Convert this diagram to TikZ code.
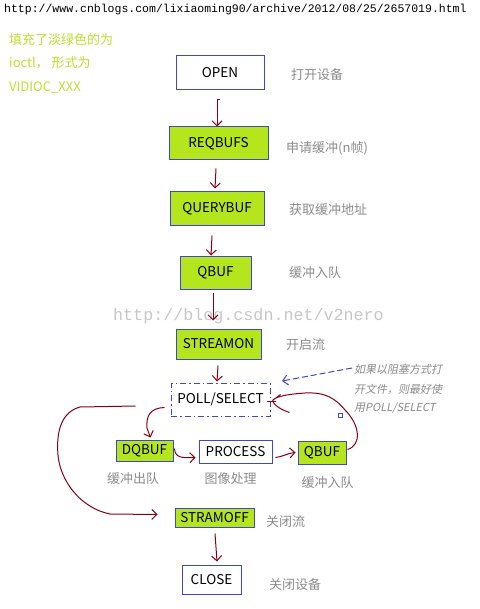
\documentclass[tikz,border=0pt]{standalone}
\usepackage{fontspec}
\setmainfont{Noto Sans CJK SC}
\newfontfamily\cjk{Noto Sans CJK SC}
\newfontfamily\cjkit[FakeSlant=0.2]{Noto Sans CJK SC}
\newfontfamily\monof{Liberation Mono}
\usetikzlibrary{arrows.meta,calc}
\definecolor{bblue}{HTML}{3F48CC}
\definecolor{lgreen}{HTML}{B5E61D}
\definecolor{dred}{HTML}{880015}
\definecolor{gtxt}{HTML}{8C8C8C}
\definecolor{wm}{HTML}{C8C8C8}
\definecolor{gnote}{HTML}{C0E030}
\tikzset{
  box/.style={draw=bblue, line width=1pt, inner sep=0pt, font=\cjk\fontsize{13.5}{14}\selectfont, text=black},
  gbox/.style={box, fill=lgreen},
  wbox/.style={box, fill=white},
  lbl/.style={font=\cjk\fontsize{13}{14}\selectfont, text=gtxt, inner sep=0pt},
  note/.style={font=\cjk\fontsize{13}{14}\selectfont, text=gnote, inner sep=0pt, anchor=west},
  ann/.style={font=\cjkit\fontsize{11}{12}\selectfont, text=gtxt, inner sep=0pt, anchor=west},
  arr/.style={draw=dred, line width=1pt, -{Straight Barb[length=5pt,width=10pt]}},
}
\begin{document}
\begin{tikzpicture}[x=1pt,y=-1pt]
\useasboundingbox[fill=white] (0,0) rectangle (479,609);
% header texts
\node[anchor=west, inner sep=0pt, font=\monof\fontsize{11.5}{12}\selectfont] (url) at (4,10) {http://www.cnblogs.com/lixiaoming90/archive/2012/08/25/2657019.html};
\node[note] (n1) at (9,40) {填充了淡绿色的为};
\node[note] (n2) at (9,63) {ioctl， 形式为};
\node[note] (n3) at (9,88) {VIDIOC\_XXX};
% watermark
\node[anchor=west, inner sep=0pt, text=wm, font=\monof\fontsize{16.7}{17}\selectfont] (wmk) at (113,316) {http://blog.csdn.net/v2nero};
% boxes
\node[wbox, minimum width=88, minimum height=34] (open) at (220,73) {OPEN};
\node[gbox, minimum width=99, minimum height=33] (req) at (218.5,143.5) {REQBUFS};
\node[gbox, minimum width=94, minimum height=34] (query) at (217,209) {QUERYBUF};
\node[gbox, minimum width=71, minimum height=33] (qbuf) at (215.5,272.5) {QBUF};
\node[gbox, minimum width=85, minimum height=30] (son) at (218.5,344) {STREAMON};
\node[box, dash pattern=on 6pt off 3pt on 1.5pt off 3pt, fill=white, minimum width=99, minimum height=33] (poll) at (220.5,399.5) {POLL/SELECT};
\node[gbox, minimum width=57, minimum height=21] (dq) at (144.5,450.5) {DQBUF};
\node[wbox, minimum width=73, minimum height=23] (proc) at (235.5,451.5) {PROCESS};
\node[gbox, minimum width=48, minimum height=23] (qb2) at (322,452.5) {QBUF};
\node[gbox, minimum width=79, minimum height=19] (soff) at (214.5,517.5) {STRAMOFF};
\node[wbox, minimum width=59, minimum height=29] (close) at (211.5,579.5) {CLOSE};
% side labels
\node[lbl, anchor=west] (l1) at (291,75) {打开设备};
\node[lbl, anchor=west] (l2) at (286,148) {申请缓冲(n帧)};
\node[lbl, anchor=west] (l3) at (289,210) {获取缓冲地址};
\node[lbl, anchor=west] (l4) at (289,273) {缓冲入队};
\node[lbl, anchor=west] (l5) at (286,345) {开启流};
\node[lbl] (l6) at (133,479) {缓冲出队};
\node[lbl] (l7) at (230.5,479) {图像处理};
\node[lbl] (l8) at (327.5,483) {缓冲入队};
\node[lbl, anchor=west] (l9) at (266,522) {关闭流};
\node[lbl, anchor=west] (l10) at (269,585) {关闭设备};
% annotation
\node[ann] (a1) at (354,369) {如果以阻塞方式打};
\node[ann] (a2) at (354,389) {开文件，则最好使};
\node[ann] (a3) at (354,408) {用POLL/SELECT};
\coordinate (pt) at (282,381);
\draw[draw=bblue, line width=1pt, dash pattern=on 6pt off 3pt, -{Straight Barb[length=5pt,width=10pt]}] ($(a1.west)+(-2,-1)$) -- (pt);
\node[draw=bblue, line width=0.8pt, minimum size=4pt, inner sep=0pt] (sq) at (340,415) {};
% vertical arrows
\draw[arr] ($(open.south)+(0,9)$) -| ($(open.south)+(-3,9)$) -- ($(req.north)+(-1.5,0)$);
\draw[arr] ($(req.south)+(-2.5,8)$) -- ($(query.north)+(-2,-3)$);
\draw[arr] ($(query.south)+(-5,9)$) -- ($(qbuf.north)+(-4.5,0)$);
\draw[arr] ($(qbuf.south)+(-2.5,3)$) -- ($(son.north)+(-5.5,-8)$);
\draw[arr] ($(son.south)+(-0.5,6)$) -- ($(poll.north)+(-3.5,-1)$);
\draw[arr] ($(soff.south)+(0.5,6)$) -- ($(close.north)+(5.5,-3)$);
% loop arrows
\draw[arr] ($(poll.west)+(-6,8)$) .. controls (150,408) and (146,416) .. (147,428) -- ($(dq.north)+(6,-2)$);
\draw[arr] ($(dq.east)+(1,-2)$) .. controls (175,458) and (182,458) .. ($(proc.west)+(-3,6)$);
\draw[arr] ($(proc.east)+(3,6)$) .. controls (282,457) and (288,453) .. ($(qb2.west)+(-2,0)$);
\draw[draw=dred, line width=1pt] ($(qb2.east)+(1,-3)$) .. controls (362,445) and (360,425) .. (345,410)
  .. controls (335,398) and (325,392) .. (305,393)
  .. controls (290,394) and (276,396) .. ($(poll.east)+(2,1)$)
  -- ++(8,-6);
\draw[draw=dred, line width=1pt] ($(poll.east)+(2,1)$) .. controls ++(2,6) and ++(-6,-2) .. ++(17,12);
\draw[dred, line width=1pt] ($(poll.east)+(-4,1.5)$) -- ($(poll.east)+(5,1.5)$);
\draw[arr] ($(poll.west)+(-35,6.5)$) -- (80,407) .. controls (62,412) and (56,430) .. (58,455)
  .. controls (60,480) and (80,508) .. (110,514) -- ($(soff.west)+(-17,-3)$);
\end{tikzpicture}
\end{document}
